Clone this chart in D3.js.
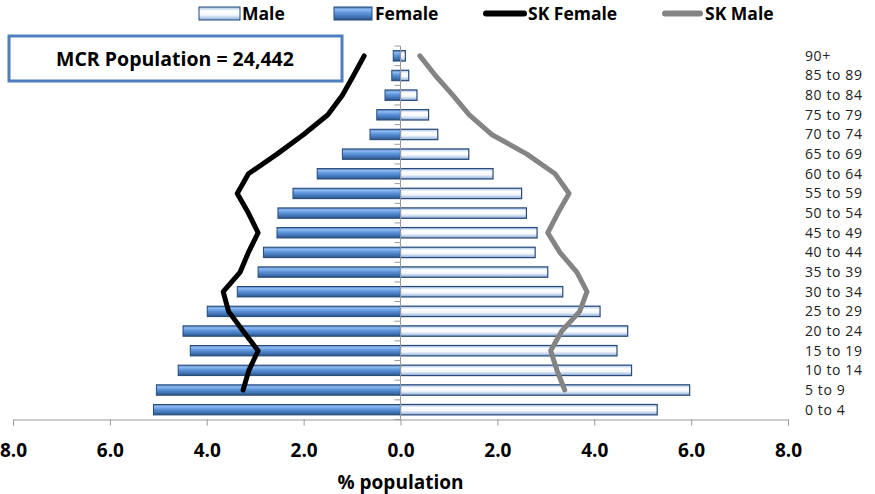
<!DOCTYPE html>
<html><head><meta charset="utf-8">
<script src="https://cdn.jsdelivr.net/npm/d3@7"></script>
<style>body{margin:0;background:#fff}svg{display:block}text{font-family:"Open Sans","Noto Sans",sans-serif}</style>
</head><body>
<svg id="c" width="875" height="494"></svg>
<script>
const ageGroups = ["0 to 4","5 to 9","10 to 14","15 to 19","20 to 24","25 to 29","30 to 34","35 to 39","40 to 44","45 to 49","50 to 54","55 to 59","60 to 64","65 to 69","70 to 74","75 to 79","80 to 84","85 to 89","90+"];
const male   = [5.30,5.97,4.77,4.47,4.69,4.12,3.35,3.04,2.78,2.82,2.60,2.50,1.91,1.41,0.77,0.58,0.34,0.17,0.10];
const female = [5.10,5.04,4.59,4.34,4.49,3.99,3.37,2.94,2.83,2.55,2.53,2.22,1.72,1.20,0.63,0.49,0.32,0.18,0.15];
const skFemaleAges = ageGroups.slice(1);
const skFemale = [3.25,3.13,2.94,3.25,3.55,3.66,3.31,3.14,2.94,3.14,3.37,3.14,2.55,2.00,1.50,1.20,0.97,0.75];
const skMale   = [3.39,3.23,3.10,3.33,3.70,3.85,3.64,3.29,3.04,3.25,3.48,3.19,2.61,1.88,1.42,1.08,0.72,0.40];
const xTicks = [-8,-6,-4,-2,0,2,4,6,8];
const titleText = "MCR Population = 24,442";

const svg = d3.select("#c");
const defs = svg.append("defs");
const gF = defs.append("linearGradient").attr("id","gF").attr("x1",0).attr("y1",0).attr("x2",0).attr("y2",1);
[[0,"#4a7cbc"],[0.2,"#8fbaf0"],[0.45,"#5d95dc"],[0.8,"#3d6fae"],[1,"#2a4f80"]].forEach(s=>gF.append("stop").attr("offset",s[0]).attr("stop-color",s[1]));
const gM = defs.append("linearGradient").attr("id","gM").attr("x1",0).attr("y1",0).attr("x2",0).attr("y2",1);
[[0,"#9fbde6"],[0.3,"#ffffff"],[0.6,"#f4f8fd"],[1,"#8aaad6"]].forEach(s=>gM.append("stop").attr("offset",s[0]).attr("stop-color",s[1]));

const x = d3.scaleLinear().domain([-8,8]).range([13,788]);
const y = d3.scaleBand().domain(ageGroups.slice().reverse()).range([46,419.5]).paddingInner(0.47).paddingOuter(0.235);
const yc = a => y(a) + y.bandwidth()/2;

// bars
svg.append("g").selectAll("rect").data(ageGroups).join("rect")
  .attr("x", (d,i)=>x(-female[i])).attr("y", d=>y(d))
  .attr("width", (d,i)=>x(0)-x(-female[i])).attr("height", y.bandwidth())
  .attr("fill","url(#gF)").attr("stroke","#274a78").attr("stroke-width",1);
svg.append("g").selectAll("rect").data(ageGroups).join("rect")
  .attr("x", x(0)).attr("y", d=>y(d))
  .attr("width", (d,i)=>x(male[i])-x(0)).attr("height", y.bandwidth())
  .attr("fill","url(#gM)").attr("stroke","#274a78").attr("stroke-width",1.2);

// x axis
const xa = svg.append("g").attr("transform","translate(0,419.5)")
  .call(d3.axisBottom(x).tickValues(xTicks).tickSize(6).tickPadding(18).tickFormat(d=>Math.abs(d).toFixed(1)));
xa.select(".domain").attr("stroke","#999");
xa.selectAll(".tick line").attr("stroke","#999");
xa.selectAll("text").attr("font-size",19).attr("font-weight","bold").attr("fill","#000").attr("font-family","'Open Sans','Noto Sans',sans-serif");

// zero axis with ticks at band boundaries
const za = svg.append("g");
za.append("line").attr("x1",x(0)).attr("x2",x(0)).attr("y1",46).attr("y2",419.5).attr("stroke","#999").attr("stroke-width",1);
za.selectAll("line.t").data(d3.range(20)).join("line").attr("class","t")
  .attr("x1",x(0)-6).attr("x2",x(0)).attr("y1",i=>46+i*(373.5/19)).attr("y2",i=>46+i*(373.5/19))
  .attr("stroke","#999");

// lines
const lineGen = d3.line().x(d=>d[0]).y(d=>d[1]);
svg.append("path").datum(skFemaleAges.map((a,i)=>[x(-skFemale[i]), yc(a)]))
  .attr("d",lineGen).attr("fill","none").attr("stroke","#000").attr("stroke-width",5).attr("stroke-linejoin","round").attr("stroke-linecap","round");
svg.append("path").datum(skFemaleAges.map((a,i)=>[x(skMale[i]), yc(a)]))
  .attr("d",lineGen).attr("fill","none").attr("stroke","#848484").attr("stroke-width",5).attr("stroke-linejoin","round").attr("stroke-linecap","round");

// y labels
svg.append("g").selectAll("text").data(ageGroups).join("text")
  .attr("x",805).attr("y",d=>yc(d)).attr("dy","0.35em").attr("font-size",14).attr("letter-spacing",0.6).attr("fill","#222").text(d=>d);

// axis title
svg.append("text").attr("x",x(0)).attr("y",489).attr("text-anchor","middle").attr("font-size",19).attr("font-weight","bold").text("% population");

// title box
svg.append("rect").attr("x",9).attr("y",36).attr("width",333).attr("height",45).attr("fill","#fff").attr("stroke","#4f7fbd").attr("stroke-width",3);
svg.append("text").attr("x",175).attr("y",66).attr("text-anchor","middle").attr("font-size",19.5).attr("font-weight","bold").text(titleText);

// legend
const lg = svg.append("g");
lg.append("rect").attr("x",199).attr("y",7).attr("width",41).attr("height",13).attr("fill","url(#gM)").attr("stroke","#274a78");
lg.append("text").attr("x",242).attr("y",19.5).attr("font-size",17.5).attr("font-weight","bold").text("Male");
lg.append("rect").attr("x",334).attr("y",7).attr("width",38).attr("height",13).attr("fill","url(#gF)").attr("stroke","#274a78");
lg.append("text").attr("x",375).attr("y",19.5).attr("font-size",17.5).attr("font-weight","bold").text("Female");
lg.append("line").attr("x1",486).attr("x2",524).attr("y1",13.5).attr("y2",13.5).attr("stroke","#000").attr("stroke-width",6).attr("stroke-linecap","round");
lg.append("text").attr("x",528).attr("y",19.5).attr("font-size",17.5).attr("font-weight","bold").text("SK Female");
lg.append("line").attr("x1",665).attr("x2",700).attr("y1",13.5).attr("y2",13.5).attr("stroke","#848484").attr("stroke-width",6).attr("stroke-linecap","round");
lg.append("text").attr("x",705).attr("y",19.5).attr("font-size",17.5).attr("font-weight","bold").text("SK Male");
</script>
</body></html>
